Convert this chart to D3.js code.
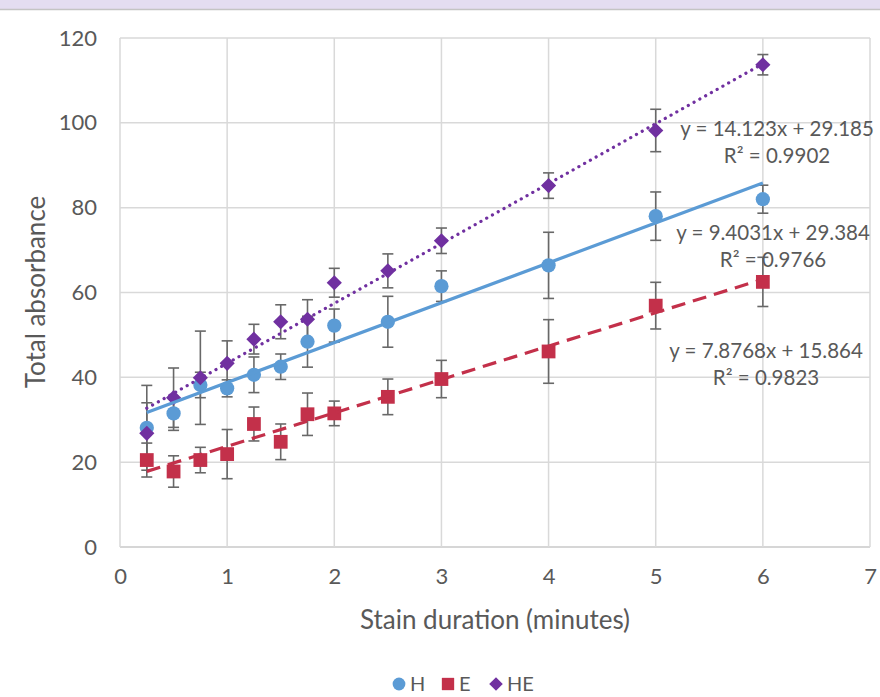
<!DOCTYPE html>
<html>
<head>
<meta charset="utf-8">
<script src="https://cdn.jsdelivr.net/npm/d3@7"></script>
<style>
  body { margin: 0; background: #fff; }
  text { font-family: Lato, "Open Sans", sans-serif; fill: #595959; }
</style>
</head>
<body>
<div id="chart"></div>
<script>
let width = 880;
let height = 697;

// stain duration (minutes)
let durations = [0.25, 0.5, 0.75, 1, 1.25, 1.5, 1.75, 2, 2.5, 3, 4, 5, 6];

// total absorbance per stain, with error bar half-widths
let valH = [28.1, 31.5, 38.2, 37.4, 40.6, 42.5, 48.4, 52.2, 53.1, 61.5, 66.4, 78.0, 82.0];
let errH = [10, 4, 3, 2, 4.2, 3, 6, 3.9, 6, 3.6, 7.8, 5.7, 3.3];
let valE = [20.5, 17.8, 20.5, 21.9, 29.0, 24.8, 31.3, 31.5, 35.4, 39.6, 46.1, 56.9, 62.5];
let errE = [4, 3.7, 3, 5.8, 4, 4.2, 5, 2.9, 4.2, 4.4, 7.5, 5.5, 5.8];
let valHE = [26.8, 35.2, 39.9, 43.3, 49.0, 53.1, 53.7, 62.3, 65.1, 72.2, 85.2, 98.2, 113.7];
let errHE = [7.2, 7, 11, 5.3, 3.5, 4, 4.6, 3.4, 4, 3, 3, 5, 2.4];

// linear trendlines as printed on the chart
let seriesNames = ["H", "E", "HE"];
let slopes = [9.4031, 7.8768, 14.123];
let intercepts = [29.384, 15.864, 29.185];
let r2 = ["0.9766", "0.9823", "0.9902"];

let xTicks = [0, 1, 2, 3, 4, 5, 6, 7];
let yTicks = [0, 20, 40, 60, 80, 100, 120];

let colors = { "H": "#5b9bd5", "E": "#c3304a", "HE": "#7030a0" };

let series = [
  { name: "H", values: valH, errs: errH },
  { name: "E", values: valE, errs: errE },
  { name: "HE", values: valHE, errs: errHE }
];

let svg = d3.select("#chart").append("svg")
  .attr("width", width).attr("height", height);

// window strip at the very top
svg.append("rect").attr("x", 0).attr("y", 0).attr("width", width).attr("height", 9).attr("fill", "#e4ddf1");
svg.append("line").attr("x1", 0).attr("x2", width).attr("y1", 9.5).attr("y2", 9.5)
  .attr("stroke", "#c4c4c4").attr("stroke-width", 1.5);

let x = d3.scaleLinear().domain([0, 7]).range([120, 870]);
let y = d3.scaleLinear().domain([0, 120]).range([547, 38]);

// grid
svg.append("g").selectAll("line").data(yTicks).join("line")
  .attr("x1", x(0)).attr("x2", x(7))
  .attr("y1", d => y(d)).attr("y2", d => y(d))
  .attr("stroke", d => d == 0 ? "#c8c8c8" : "#d9d9d9").attr("stroke-width", 1.5);
svg.append("g").selectAll("line").data(xTicks).join("line")
  .attr("x1", d => x(d)).attr("x2", d => x(d))
  .attr("y1", y(0)).attr("y2", y(120))
  .attr("stroke", "#d9d9d9").attr("stroke-width", 1.5);

// axes labels (ticks hidden, only text)
let xAxis = svg.append("g").attr("transform", `translate(0,${y(0)})`)
  .call(d3.axisBottom(x).tickValues(xTicks).tickSize(0).tickPadding(21).tickFormat(d3.format("d")));
let yAxis = svg.append("g").attr("transform", `translate(${x(0)},0)`)
  .call(d3.axisLeft(y).tickValues(yTicks).tickSize(0).tickPadding(23).tickFormat(d3.format("d")));
[xAxis, yAxis].forEach(a => {
  a.select(".domain").remove();
  a.selectAll("text").style("font-size", "22px").attr("fill", "#595959");
});

svg.append("text").attr("x", 495).attr("y", 629).attr("text-anchor", "middle")
  .style("font-size", "26px").text("Stain duration (minutes)");
svg.append("text").attr("transform", "translate(45,292) rotate(-90)").attr("text-anchor", "middle")
  .style("font-size", "26px").text("Total absorbance");

// error bars
series.forEach(s => {
  let g = svg.append("g");
  let pts = durations.map((d, i) => ({ x: d, v: s.values[i], e: s.errs[i] }));
  g.selectAll(".stem").data(pts).join("line")
    .attr("x1", d => x(d.x)).attr("x2", d => x(d.x))
    .attr("y1", d => y(d.v + d.e)).attr("y2", d => y(d.v - d.e))
    .attr("stroke", "#686868").attr("stroke-width", 1.6);
  [1, -1].forEach(sign => {
    g.selectAll(".cap" + sign).data(pts).join("line")
      .attr("x1", d => x(d.x) - 5.5).attr("x2", d => x(d.x) + 5.5)
      .attr("y1", d => y(d.v + sign * d.e)).attr("y2", d => y(d.v + sign * d.e))
      .attr("stroke", "#686868").attr("stroke-width", 1.6);
  });
});

// markers (diamond = square turned 45 degrees)
let symbols = { "H": d3.symbolCircle, "E": d3.symbolSquare, "HE": d3.symbolSquare };
let symSize = { "H": 160, "E": 190, "HE": 115 };
let symRot = { "H": 0, "E": 0, "HE": 45 };
series.forEach(s => {
  svg.append("g").selectAll("path").data(durations.map((d, i) => [d, s.values[i]])).join("path")
    .attr("transform", d => `translate(${x(d[0])},${y(d[1])}) rotate(${symRot[s.name]})`)
    .attr("d", d3.symbol().type(symbols[s.name]).size(symSize[s.name]))
    .attr("fill", colors[s.name]);
});

// trendlines
let dashes = { "H": null, "E": "14,8", "HE": "0.1,6.5" };
seriesNames.forEach((n, i) => {
  let x0 = durations[0], x1 = durations[durations.length - 1];
  svg.append("line")
    .attr("x1", x(x0)).attr("y1", y(slopes[i] * x0 + intercepts[i]))
    .attr("x2", x(x1)).attr("y2", y(slopes[i] * x1 + intercepts[i]))
    .attr("stroke", colors[n]).attr("stroke-width", 3.2)
    .attr("stroke-linecap", n == "HE" ? "round" : "butt")
    .attr("stroke-dasharray", dashes[n]);
});

// equation labels
let labelPos = { "H": [773, 240, 267], "E": [766, 358, 385], "HE": [777, 136, 163] };
seriesNames.forEach((n, i) => {
  let p = labelPos[n];
  svg.append("text").attr("x", p[0]).attr("y", p[1]).attr("text-anchor", "middle")
    .style("font-size", "20.5px").attr("fill", "#404040")
    .text(`y = ${slopes[i]}x + ${intercepts[i]}`);
  svg.append("text").attr("x", p[0]).attr("y", p[2]).attr("text-anchor", "middle")
    .style("font-size", "20.5px").attr("fill", "#404040")
    .text(`R² = ${r2[i]}`);
});

// legend
let legendX = [399, 448, 496];
let legend = svg.append("g").selectAll("g").data(seriesNames).join("g")
  .attr("transform", (d, i) => `translate(${legendX[i]},684)`);
legend.append("path")
  .attr("transform", d => `rotate(${symRot[d]})`)
  .attr("d", d => d3.symbol().type(symbols[d]).size(symSize[d] * 0.8)())
  .attr("fill", d => colors[d]);
legend.append("text").attr("x", 11).attr("y", 7).style("font-size", "20px").text(d => d);
</script>
</body>
</html>
